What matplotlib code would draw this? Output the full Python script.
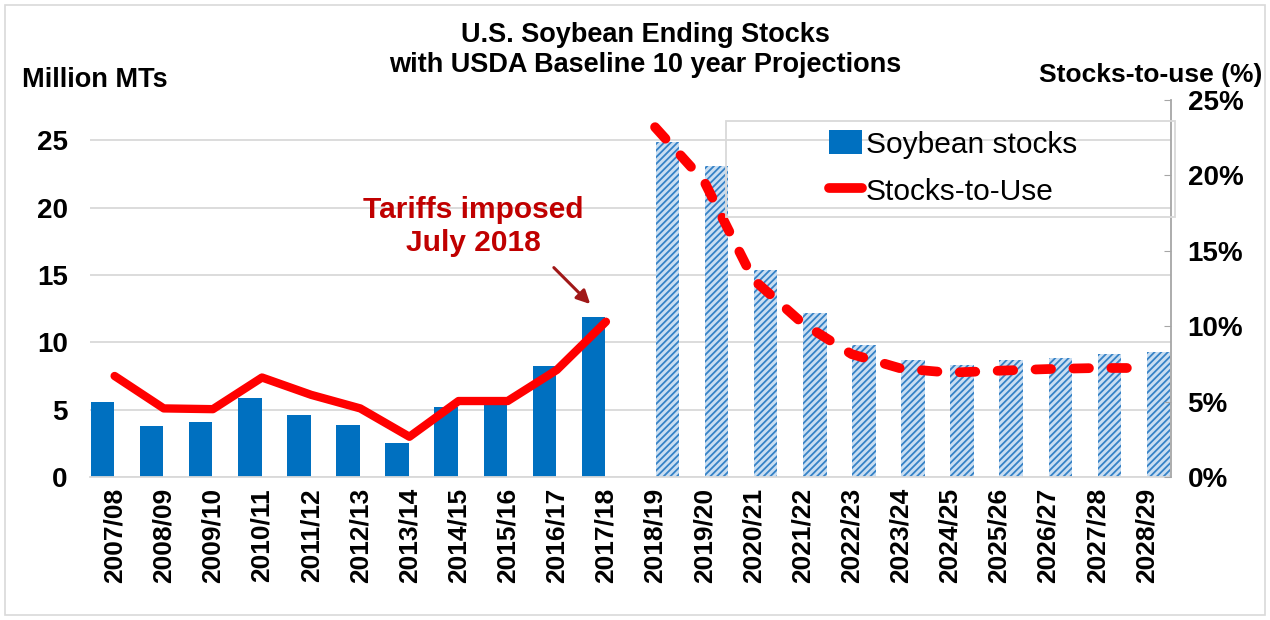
import numpy as np
import matplotlib
matplotlib.use('Agg')
import matplotlib.pyplot as plt
from matplotlib.ticker import PercentFormatter
from matplotlib.patches import Rectangle, Patch
from matplotlib.lines import Line2D

plt.rcParams['font.family'] = ['Liberation Sans', 'DejaVu Sans']
plt.rcParams['hatch.linewidth'] = 1.3

# marketing years, historic then USDA baseline projections
years = ['2007/08', '2008/09', '2009/10', '2010/11', '2011/12', '2012/13', '2013/14',
         '2014/15', '2015/16', '2016/17', '2017/18', '2018/19', '2019/20', '2020/21',
         '2021/22', '2022/23', '2023/24', '2024/25', '2025/26', '2026/27', '2027/28', '2028/29']
hist_stocks = [5.58, 3.76, 4.11, 5.85, 4.61, 3.83, 2.50, 5.19, 5.35, 8.21, 11.92]   # million MT
proj_stocks = [24.88, 23.09, 15.40, 12.18, 9.82, 8.70, 8.33, 8.66, 8.83, 9.13, 9.25]
hist_stu = [6.7, 4.55, 4.5, 6.6, 5.45, 4.55, 2.67, 5.04, 5.04, 7.1, 10.3]          # stocks-to-use %
proj_stu = [23.2, 19.6, 13.1, 10.2, 8.15, 7.2, 6.92, 7.05, 7.16, 7.23, 7.23]

blue = '#0070C0'
red = '#FF0000'
dark_red = '#C00000'

x = np.arange(len(years))
nh = len(hist_stocks)

fig = plt.figure(figsize=(12.7, 6.2), dpi=100)
ax = fig.add_axes([0.0709, 0.2306, 0.922 - 0.0709, 0.8387 - 0.2306])
ax2 = ax.twinx()

# bars: historic in left slot, projections in right slot of each category
ax.bar(x[:nh] - 0.25, hist_stocks, width=0.48, color=blue, zorder=2)
ax.bar(x[nh:] + 0.25, proj_stocks, width=0.48, facecolor='#c9def2', edgecolor='#3582c6',
       hatch='/////', linewidth=0, zorder=2)

ax.set_xlim(-0.5, len(years) - 0.5)
ax.set_ylim(0, 28)
ax.set_yticks([0, 5, 10, 15, 20, 25])
ax.yaxis.grid(True, color='#d9d9d9', linewidth=1.3, zorder=0)
ax.set_axisbelow(True)
ax.set_xticks(x)
ax.set_xticklabels(years, rotation=90, fontsize=19, fontweight='bold')
ax.tick_params(axis='x', length=0, pad=8)
ax.tick_params(axis='y', length=0, pad=16, labelsize=20)
for lab in ax.get_yticklabels():
    lab.set_fontweight('bold')
for s in ['top', 'left', 'right']:
    ax.spines[s].set_visible(False)
ax.spines['bottom'].set_color('#d9d9d9')
ax.spines['bottom'].set_linewidth(1.3)

# stocks-to-use on the right axis
ax2.plot(x[:nh], hist_stu, color=red, linewidth=6, solid_capstyle='round',
         solid_joinstyle='round', zorder=3)
dash_line, = ax2.plot(x[nh:], proj_stu, color=red, linewidth=7, dash_capstyle='round',
                      zorder=3)
dash_line.set_dashes([1.6, 2.3])
ax2.set_ylim(0, 25)
ax2.set_yticks([0, 5, 10, 15, 20, 25])
ax2.yaxis.set_major_formatter(PercentFormatter(100, decimals=0))
ax2.tick_params(axis='y', direction='in', length=5, color='#a6a6a6', pad=12, labelsize=20)
for lab in ax2.get_yticklabels():
    lab.set_fontweight('bold')
for s in ['top', 'left', 'bottom']:
    ax2.spines[s].set_visible(False)
ax2.spines['right'].set_color('#a6a6a6')
ax2.spines['right'].set_linewidth(1.3)

# annotation
ax.text(7.3, 18.6, 'Tariffs imposed\nJuly 2018', color=dark_red, fontsize=21.5,
        fontweight='bold', ha='center', va='center', linespacing=1.22, zorder=4)
ax.annotate('', xy=(9.72, 12.7), xytext=(8.9, 15.7),
            arrowprops=dict(arrowstyle='-|>', color='#A01818', lw=2.2, mutation_scale=20),
            zorder=4)

# legend inside its own light frame
handles = [Patch(facecolor=blue, edgecolor='none'),
           Line2D([0], [0], color=red, linewidth=7, solid_capstyle='round')]
fig.patches.append(Rectangle((726 / 1270, 1 - 217 / 620), 449 / 1270, 96 / 620,
                             transform=fig.transFigure, fill=False,
                             edgecolor='#d9d9d9', linewidth=1.3))
fig.legend(handles, ['Soybean stocks', 'Stocks-to-Use'], loc='center',
           bbox_to_anchor=(953 / 1270, 1 - 168 / 620), frameon=False, fontsize=21.5,
           handlelength=1.1, handleheight=0.85, handletextpad=0.15, labelspacing=0.62)

# titles and axis captions
fig.text(0.508, 1 - 50 / 620, 'U.S. Soybean Ending Stocks\nwith USDA Baseline 10 year Projections',
         ha='center', va='center', fontsize=19.5, fontweight='bold', linespacing=1.25)
fig.text(22 / 1270, 1 - 80 / 620, 'Million MTs', ha='left', va='center',
         fontsize=19.5, fontweight='bold')
fig.text(1262 / 1270, 1 - 75 / 620, 'Stocks-to-use (%)', ha='right', va='center',
         fontsize=19, fontweight='bold')

# thin frame around the picture
fig.patches.append(Rectangle((5 / 1270, 5 / 620), 1260 / 1270, 610 / 620,
                             transform=fig.transFigure, fill=False,
                             edgecolor='#d9d9d9', linewidth=1.2))

fig.savefig('out.png', dpi=100)
